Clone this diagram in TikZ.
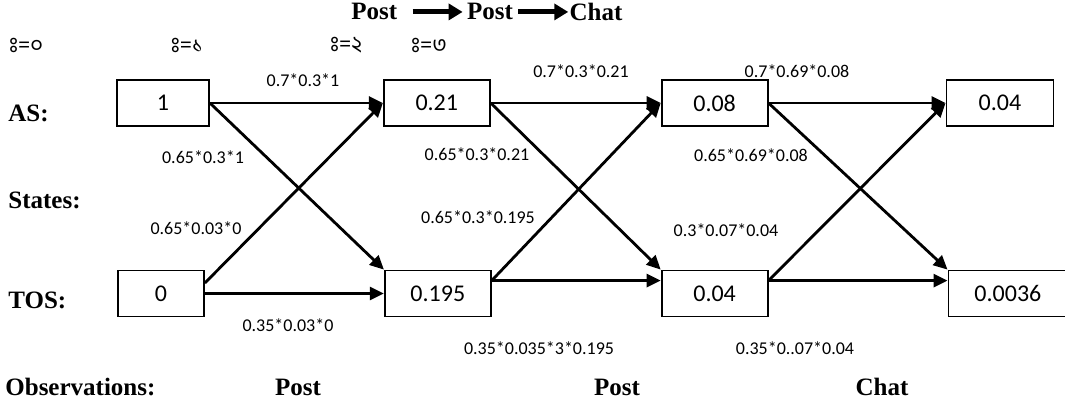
\documentclass[tikz,border=0pt]{standalone}
\usepackage{fontspec}
\setmainfont{Liberation Serif}
\newfontfamily\calibri{Carlito}
\newfontfamily\bangla[Script=Bengali]{Hind Siliguri}
\newcommand{\vis}{\XeTeXglyph\XeTeXcharglyph"0983\relax}
\usetikzlibrary{arrows.meta, positioning, calc}

\begin{document}
\begin{tikzpicture}[
            x=0.5pt, y=-0.5pt,
            box/.style={draw, line width=0.9pt, minimum height=23pt, inner sep=0pt, font=\fontsize{12}{14}\selectfont\calibri},
            prob/.style={inner sep=0pt, font=\fontsize{9}{11}\selectfont\calibri},
            tlbl/.style={inner sep=0pt, font=\fontsize{11}{13}\selectfont\bangla},
            head/.style={inner sep=0pt, font=\fontsize{12.5}{15}\selectfont\bfseries},
            arr/.style={-{Triangle[length=7pt, width=6.5pt]}, line width=1.4pt},
            bigarr/.style={-{Triangle[length=7pt, width=8pt]}, line width=2.5pt}
        ]
            \useasboundingbox (0,0) rectangle (1065,405);

            % header
            \node[head, anchor=base west] (h1) at (351,20) {Post};
            \node[head, right=34.5pt of h1] (h2) {Post};
            \node[head, right=28pt of h2] (h3) {Chat};
            \draw[bigarr, shorten <=7.5pt, shorten >=2pt] (h1) -- (h2);
            \draw[bigarr, shorten <=2.5pt, shorten >=0.5pt] (h2) -- (h3);

            \node[tlbl] (t0) at (26,45) {\vis=০};
            \node[tlbl] (t1) at (187,45) {\vis=১};
            \node[tlbl] (t2) at (346,45) {\vis=২};
            \node[tlbl] (t3) at (429,45) {\vis=৩};

            % row labels
            \node[head, anchor=west] (as) at (8,113) {AS:};
            \node[head, anchor=west] (states) at (8,200) {States:};
            \node[head, anchor=west] (tos) at (8,300) {TOS:};

            % state boxes
            \node[box, minimum width=46pt] (as0) at (163,103) {1};
            \node[box, minimum width=53pt, right=86.5pt of as0] (as1) {0.21};
            \node[box, minimum width=53pt, right=85pt of as1] (as2) {0.08};
            \node[box, minimum width=53.5pt, right=88.5pt of as2] (as3) {0.04};

            \node[box, minimum width=43pt] (tos0) at (161,293.5) {0};
            \node[box, minimum width=53pt, right=89.5pt of tos0] (tos1) {0.195};
            \node[box, minimum width=53pt, right=84.5pt of tos1] (tos2) {0.04};
            \node[box, minimum width=59.5pt, right=89.5pt of tos2] (tos3) {0.0036};

            \coordinate (o0) at ($(tos0.north east)!0.28!(tos0.south east)$);
            \coordinate (o1) at ($(tos1.north east)!0.23!(tos1.south east)$);
            \coordinate (o2) at ($(tos2.north east)!0.23!(tos2.south east)$);

            % transitions
            \draw[arr] (as0.east) -- (as1.west);
            \draw[arr] (as1.east) -- (as2.west);
            \draw[arr] (as2.east) -- (as3.west);
            \draw[arr] (as0.east) -- (tos1.north west);
            \draw[arr] (as1.east) -- (tos2.north west);
            \draw[arr] (as2.east) -- (tos3.north west);
            \draw[arr] (o0) -- (as1.west);
            \draw[arr] (o1) -- (as2.west);
            \draw[arr] (o2) -- (as3.west);
            \draw[arr] (tos0.east) -- (tos1.west);
            \draw[arr] (o1) -- (o1 -| tos2.west);
            \draw[arr] (o2) -- (o2 -| tos3.west);

            % probabilities
            \node[prob] (p1) at (303,80) {0.7*0.3*1};
            \node[prob] (p2) at (203,157) {0.65*0.3*1};
            \node[prob] (p3) at (196,228) {0.65*0.03*0};
            \node[prob] (p4) at (288,325) {0.35*0.03*0};
            \node[prob] (p5) at (581,71) {0.7*0.3*0.21};
            \node[prob] (p6) at (477,154) {0.65*0.3*0.21};
            \node[prob] (p7) at (478,217) {0.65*0.3*0.195};
            \node[prob] (p8) at (539,348) {0.35*0.035*3*0.195};
            \node[prob] (p9) at (797,71) {0.7*0.69*0.08};
            \node[prob] (p10) at (751,155) {0.65*0.69*0.08};
            \node[prob] (p11) at (726,230) {0.3*0.07*0.04};
            \node[prob] (p12) at (795,348) {0.35*0..07*0.04};

            % observations
            \node[head, anchor=west] (obs) at (5,387) {Observations:};
            \node[head] (ob1) at (298,387) {Post};
            \node[head] (ob2) at (617,387) {Post};
            \node[head] (ob3) at (882,387) {Chat};
        \end{tikzpicture}
\end{document}
